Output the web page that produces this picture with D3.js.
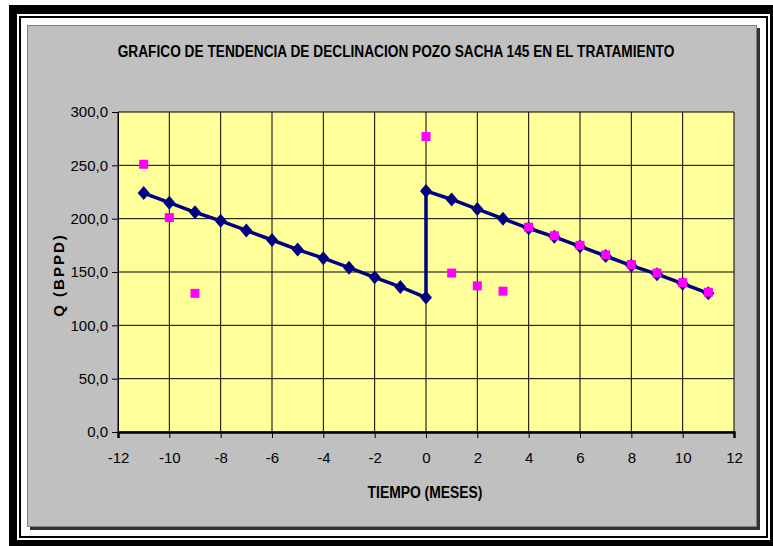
<!DOCTYPE html>
<html><head><meta charset="utf-8">
<script src="https://cdn.jsdelivr.net/npm/d3@7/dist/d3.min.js"></script>
<style>html,body{margin:0;padding:0;background:#fff;}svg{display:block;}</style>
</head><body>
<svg id="c" width="773" height="546"></svg>
<script>
// ---- data ----
const titulo = "GRAFICO DE TENDENCIA DE DECLINACION POZO SACHA 145 EN EL TRATAMIENTO";
const ejeX = "TIEMPO (MESES)";
const ejeY = "Q (BPPD)";
const mesesTendencia = [-11,-10,-9,-8,-7,-6,-5,-4,-3,-2,-1,0,0,1,2,3,4,5,6,7,8,9,10,11];
const qTendencia     = [224,215,206,198,189,180,171,163,154,145,136,126,226,218,209,200,191,183,174,165,156,148,139,130];
const mesesReal = [-11,-10,-9,0,1,2,3,4,5,6,7,8,9,10,11];
const qReal     = [251,201,130,277,149,137,132,192,184,175,166,157,149,140,131];
const ticksX = [-12,-10,-8,-6,-4,-2,0,2,4,6,8,10,12];
const ticksY = [0,50,100,150,200,250,300];

const svg = d3.select("#c");
// frame
svg.append("rect").attr("x",9).attr("y",5).attr("width",773-9).attr("height",546-5).attr("fill","#000");
svg.append("rect").attr("x",17).attr("y",14).attr("width",770-17).attr("height",540-14).attr("fill","#fff");
svg.append("rect").attr("x",20).attr("y",17).attr("width",767-20).attr("height",537-17).attr("fill","none").attr("stroke","#000").attr("stroke-width",2);
// chart area with shadow
svg.append("rect").attr("x",30).attr("y",28).attr("width",730).attr("height",502).attr("fill","#333");
svg.append("rect").attr("x",27.5).attr("y",25.5).attr("width",729).attr("height",501).attr("fill","#C0C0C0").attr("stroke","#808080").attr("stroke-width",1);

const x = d3.scaleLinear().domain([-12,12]).range([118,734]);
const y = d3.scaleLinear().domain([0,300]).range([432,112]);

// plot area
svg.append("rect").attr("x",x(-12)).attr("y",y(300)).attr("width",x(12)-x(-12)).attr("height",y(0)-y(300)).attr("fill","#FFFF99");
// grid
const g = svg.append("g");
g.selectAll("line.v").data(ticksX).join("line").attr("x1",d=>x(d)).attr("x2",d=>x(d)).attr("y1",y(0)).attr("y2",y(300)).attr("stroke","#000").attr("stroke-width",1);
g.selectAll("line.h").data(ticksY).join("line").attr("y1",d=>y(d)).attr("y2",d=>y(d)).attr("x1",x(-12)).attr("x2",x(12)).attr("stroke","#000").attr("stroke-width",1);

// axes
const fmt = d => d3.format(".1f")(d).replace(".",",");
const ax = svg.append("g").attr("transform",`translate(0,${y(0)})`).call(d3.axisBottom(x).tickValues(ticksX).tickSize(6).tickPadding(14));
const ay = svg.append("g").attr("transform",`translate(${x(-12)},0)`).call(d3.axisLeft(y).tickValues(ticksY).tickSize(6).tickPadding(4).tickFormat(fmt));
[ax,ay].forEach(a=>{
  a.select(".domain").attr("stroke","#000");
  a.selectAll(".tick line").attr("stroke","#000");
  a.selectAll(".tick text").attr("fill","#000").attr("font-family","'Liberation Sans', Arial, sans-serif").attr("font-size",15);
});
ax.select(".domain").attr("stroke-width",2.5);
ax.selectAll(".tick text").text(d=>d<0?"-"+Math.abs(d):d);

// trend line
const pts = mesesTendencia.map((m,i)=>[m,qTendencia[i]]);
svg.append("path").datum(pts).attr("fill","none").attr("stroke","#000080").attr("stroke-width",3.5)
  .attr("stroke-linejoin","round")
  .attr("d", d3.line().x(d=>x(d[0])).y(d=>y(d[1])));
svg.append("g").selectAll("path").data(pts).join("path")
  .attr("transform",d=>`translate(${x(d[0])},${y(d[1])})`)
  .attr("d","M0,-7L6,0L0,7L-6,0Z").attr("fill","#000080");

// actual points
const real = mesesReal.map((m,i)=>[m,qReal[i]]);
svg.append("g").selectAll("rect").data(real).join("rect")
  .attr("x",d=>x(d[0])-4.5).attr("y",d=>y(d[1])-4.5).attr("width",9).attr("height",9).attr("fill","#FF00FF");

// texts (horizontally condensed to match narrow typeface)
function condensed(txt, cx, cy, size, target){
  const t = svg.append("text").attr("text-anchor","middle")
    .attr("font-family","'Liberation Sans',Arial,sans-serif").attr("font-weight","bold").attr("font-size",size)
    .attr("fill","#000").text(txt);
  const w = t.node().getComputedTextLength() || target;
  t.attr("transform",`translate(${cx},${cy}) scale(${Math.min(1,target/w)},1)`);
}
condensed(titulo, 396, 57, 17, 557);
condensed(ejeX, 425, 498, 16, 115);
svg.append("text").attr("transform","translate(64,275) rotate(-90)").attr("text-anchor","middle")
  .attr("font-family","'Liberation Sans',Arial,sans-serif").attr("font-weight","bold").attr("font-size",15)
  .attr("letter-spacing",2).text(ejeY);
</script>
</body></html>
